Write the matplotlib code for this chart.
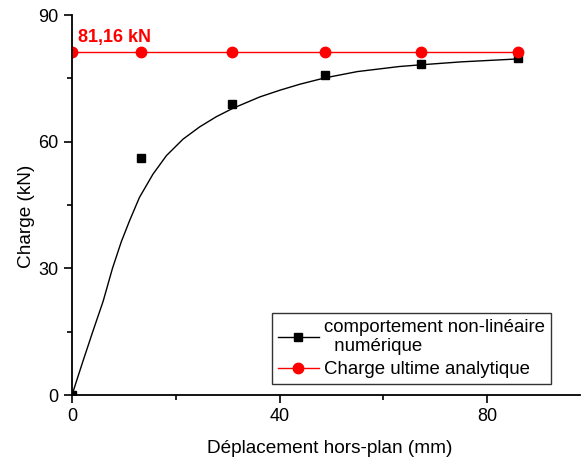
import numpy as np
import matplotlib.pyplot as plt
from matplotlib.lines import Line2D

plt.rcParams['font.family'] = ['Liberation Sans', 'DejaVu Sans']

# numerical results (squares)
disp_num = [0, 13.3, 30.9, 48.8, 67.2, 86.0]
load_num = [0, 56.2, 69.0, 75.7, 78.5, 79.7]

# fitted curve
curve_x = [0, 2.0, 4.0, 6.0, 7.8, 9.5, 11.1, 13.0, 15.6, 18.2, 21.4, 24.6,
           27.8, 31.0, 36.2, 40.1, 43.9, 48.7, 55.0, 63.1, 67.2, 75.0, 86.0]
curve_y = [0, 7.6, 15.0, 22.2, 30.0, 36.3, 41.3, 46.8, 52.3, 56.7, 60.6, 63.5,
           65.9, 67.9, 70.6, 72.2, 73.6, 75.1, 76.6, 77.8, 78.2, 78.9, 79.6]

# analytical ultimate load
disp_ana = [0, 13.3, 30.9, 48.8, 67.2, 86.0]
load_ult = 81.16

fig = plt.figure(figsize=(5.82, 4.59), dpi=100)
ax = fig.add_axes([72 / 582, 64 / 459, 508 / 582, 380 / 459])

ax.plot(curve_x, curve_y, color='black', linewidth=1)
ax.plot(disp_num, load_num, linestyle='none', marker='s', markersize=6.3,
        color='black')
ax.plot(disp_ana, [load_ult] * len(disp_ana), color='red', linewidth=1,
        marker='o', markersize=7.5)

ax.text(1.2, load_ult + 1.6, '81,16 kN', color='red', fontsize=13,
        fontweight='bold', va='bottom', ha='left')

ax.set_xlim(0, 97.9)
ax.set_ylim(0, 90)
ax.set_xticks([0, 40, 80])
ax.set_xticks([20, 60], minor=True)
ax.set_yticks([0, 30, 60, 90])
ax.set_yticks([15, 45, 75], minor=True)
ax.spines['top'].set_visible(False)
ax.spines['right'].set_visible(False)
for s in ['left', 'bottom']:
    ax.spines[s].set_linewidth(1.3)
ax.tick_params(which='major', direction='out', length=6, width=1.2,
               labelsize=13)
ax.tick_params(which='minor', direction='out', length=3.5, width=1.2)

ax.set_xlabel('Déplacement hors-plan (mm)', fontsize=13.7, labelpad=11)
ax.set_ylabel('Charge (kN)', fontsize=13.7, labelpad=2.5)
ax.xaxis.label.set_x(0.507)
ax.yaxis.label.set_y(0.469)

handles = [
    Line2D([], [], color='black', linewidth=1, marker='s', markersize=6),
    Line2D([], [], color='red', linewidth=1, marker='o', markersize=7.5),
]
labels = ['comportement non-linéaire\n  numérique', 'Charge ultime analytique']
leg = ax.legend(handles, labels, loc='lower right', bbox_to_anchor=(0.943, 0.03),
                fontsize=13.4, frameon=True, fancybox=False, edgecolor='black',
                handlelength=2.2, handletextpad=0.3, borderpad=0.3,
                labelspacing=0.3, borderaxespad=0)
leg.get_frame().set_linewidth(1)

fig.savefig('out.png', dpi=100)
